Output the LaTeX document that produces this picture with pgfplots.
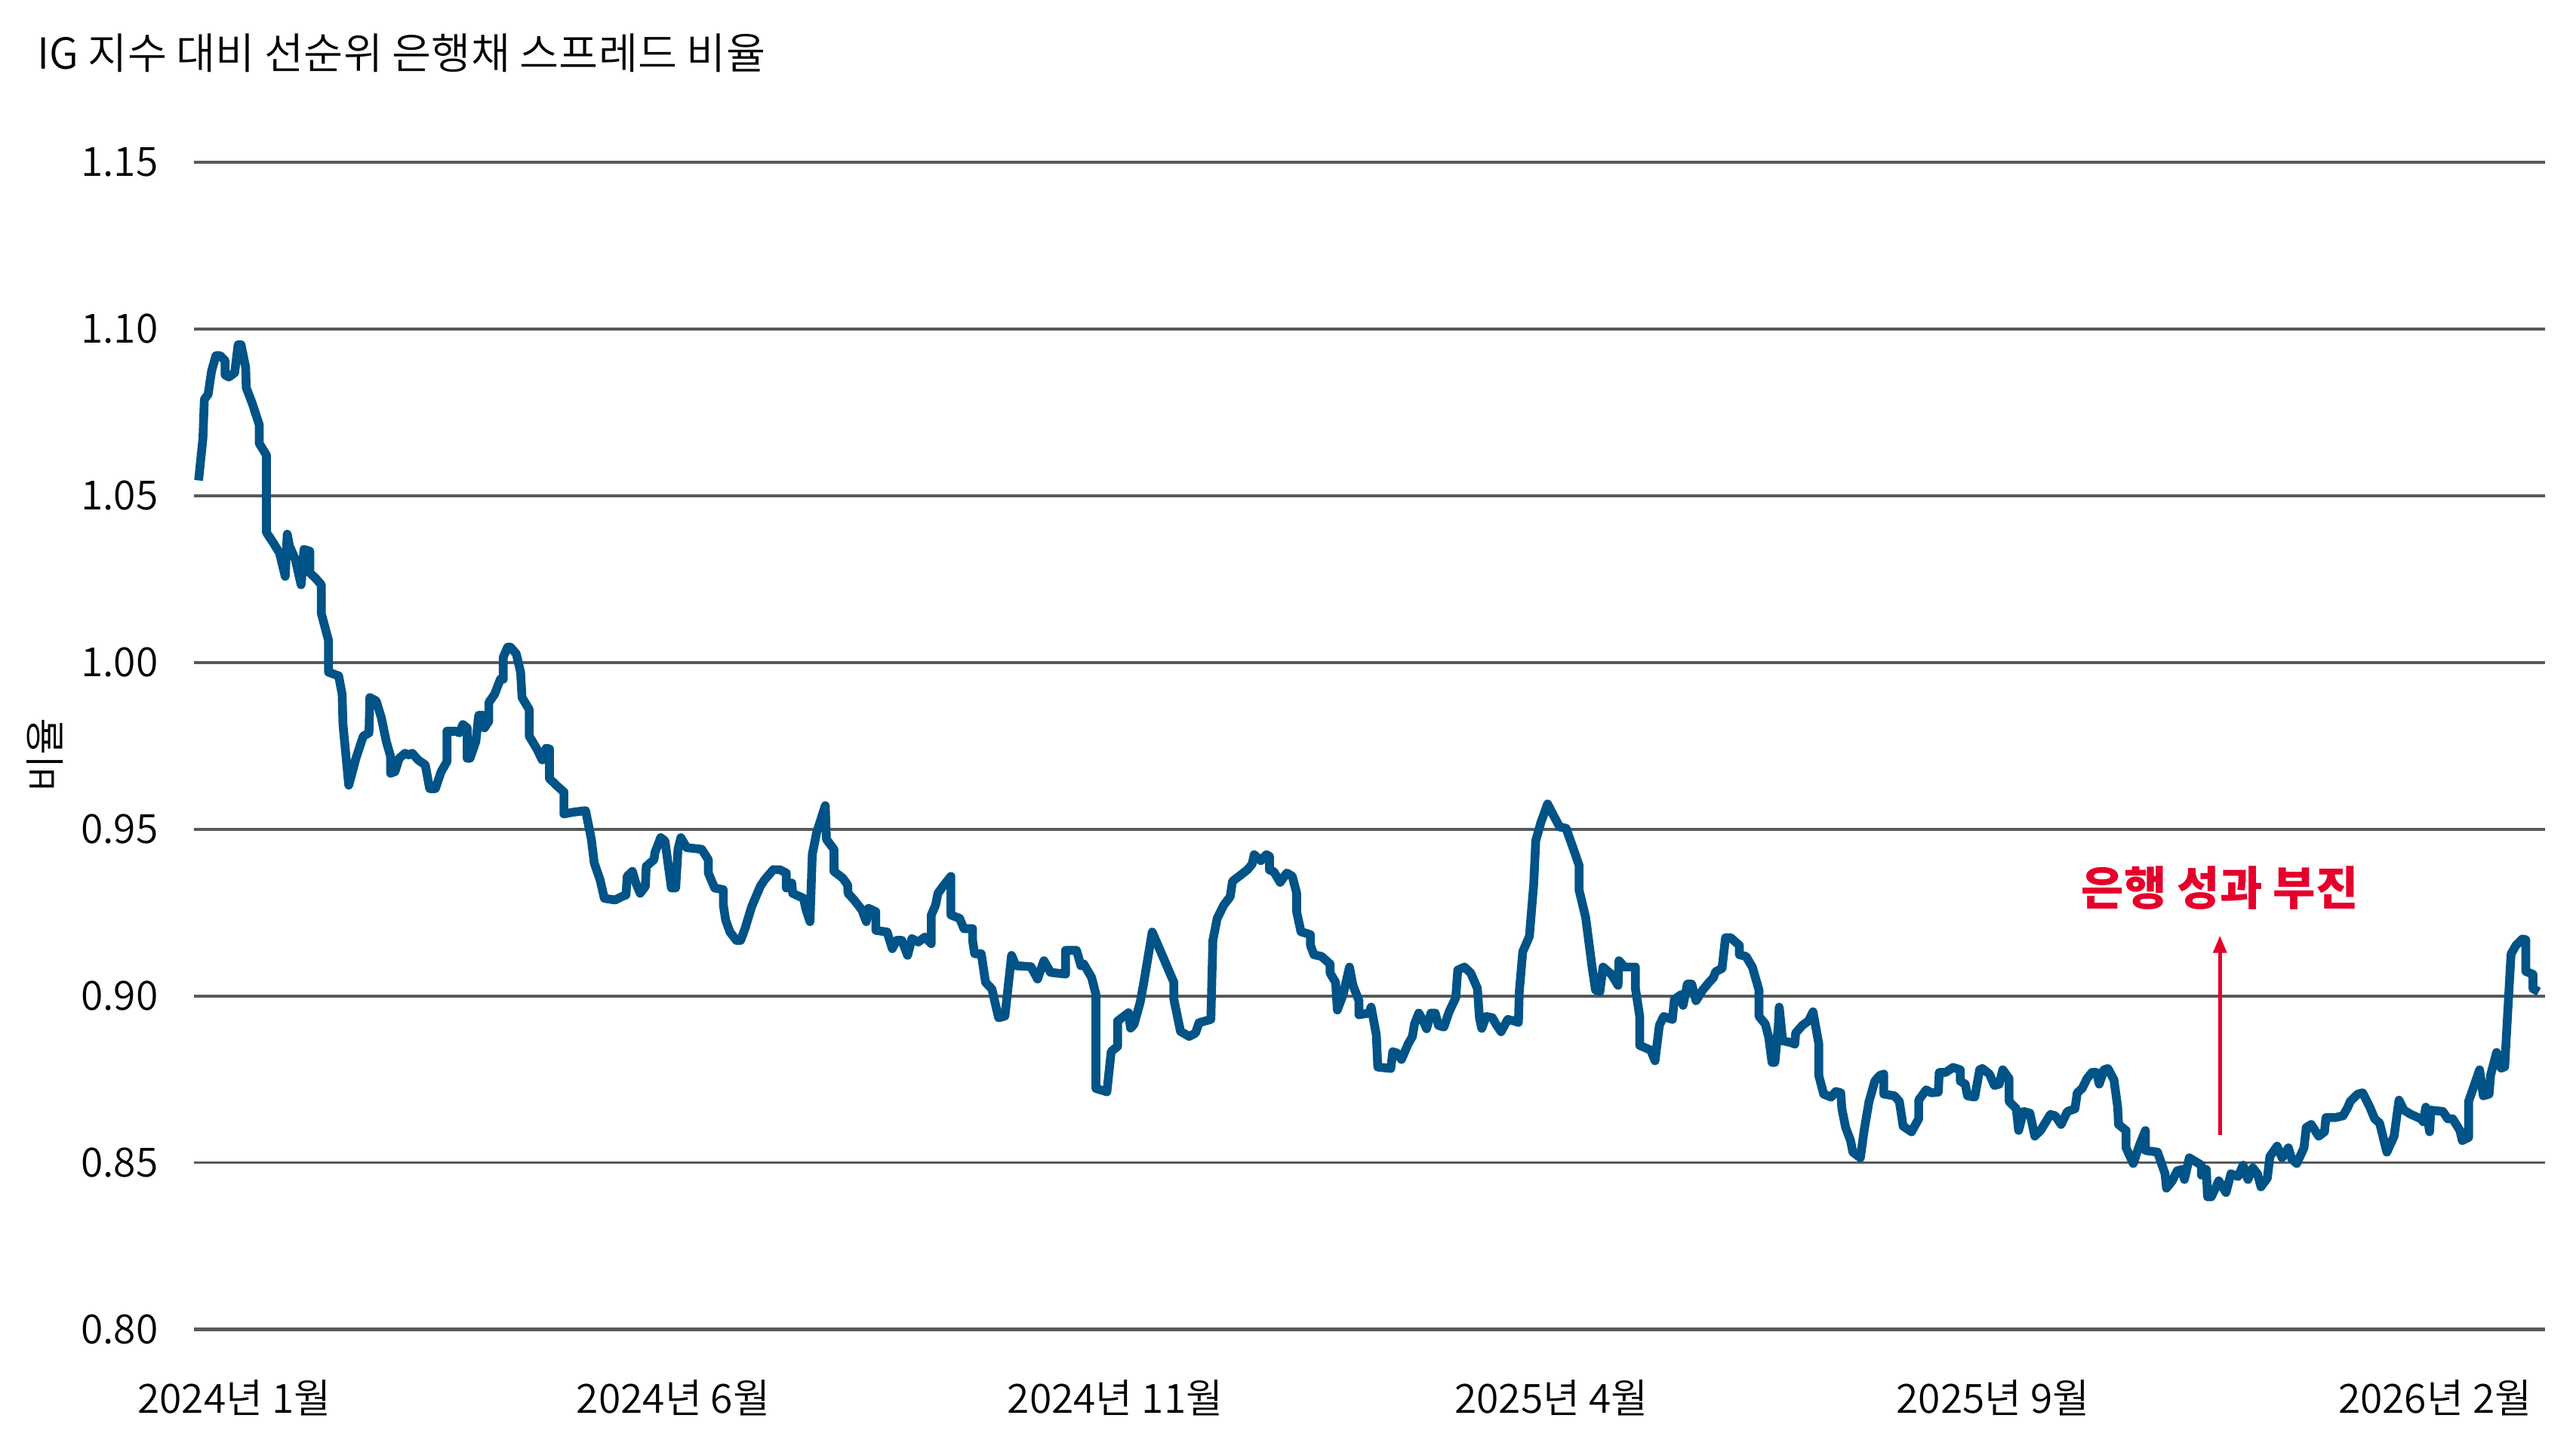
\documentclass[border=0pt]{standalone}
\usepackage{fontspec}
\IfFontExistsTF{Noto Sans CJK KR DemiLight}
  {\setmainfont{Noto Sans CJK KR DemiLight}}
  {\IfFontExistsTF{Noto Sans CJK KR Light}
    {\setmainfont{Noto Sans CJK KR Light}}
    {\setmainfont{Noto Sans CJK KR}}}
\newfontfamily\annotfont{Noto Sans CJK KR}
\usepackage{pgfplots}
\pgfplotsset{compat=1.18}
\usetikzlibrary{arrows.meta}

\definecolor{linec}{RGB}{0,83,135}
\definecolor{gridc}{RGB}{88,89,91}
\definecolor{annot}{RGB}{228,0,43}

% x = days since 2024-01-01, y = ratio
\pgfplotstableread{
day ratio
-12.4 1.0546
-10.9 1.0672
-10.4 1.0789
-9.1 1.0804
-7.9 1.0874
-6.4 1.0920
-4.9 1.0920
-3.2 1.0905
-3.2 1.0862
-1.9 1.0856
0.1 1.0869
1.3 1.0953
2.3 1.0953
3.9 1.0885
4.1 1.0824
6.1 1.0779
8.6 1.0713
8.6 1.0657
11.1 1.0622
11.1 1.0390
13.1 1.0364
15.6 1.0329
17.6 1.0258
18.3 1.0385
19.1 1.0349
21.1 1.0309
23.1 1.0233
24.1 1.0339
26.1 1.0334
26.1 1.0269
28.1 1.0253
30.1 1.0233
30.1 1.0147
32.6 1.0066
32.6 0.9971
36.1 0.9960
37.3 0.9905
37.6 0.9814
39.6 0.9632
42.1 0.9713
44.6 0.9779
46.6 0.9789
46.9 0.9895
49.1 0.9885
50.9 0.9834
52.6 0.9763
54.1 0.9718
54.1 0.9668
55.6 0.9673
57.1 0.9713
59.1 0.9728
60.3 0.9723
61.6 0.9728
63.6 0.9708
66.1 0.9693
67.6 0.9622
69.6 0.9622
71.6 0.9673
73.6 0.9703
73.6 0.9794
76.6 0.9794
77.9 0.9789
79.1 0.9814
80.6 0.9804
80.6 0.9713
81.6 0.9713
83.6 0.9763
84.6 0.9842
86.1 0.9842
86.6 0.9804
88.1 0.9824
88.1 0.9880
90.1 0.9905
92.1 0.9950
93.1 0.9950
93.1 1.0016
94.6 1.0046
95.6 1.0046
97.6 1.0026
99.1 0.9971
99.6 0.9895
102.1 0.9859
102.1 0.9779
104.6 0.9743
106.6 0.9708
107.9 0.9743
109.1 0.9741
109.1 0.9652
112.1 0.9627
114.1 0.9612
114.1 0.9546
117.1 0.9551
121.6 0.9556
123.6 0.9470
124.6 0.9399
126.6 0.9349
128.1 0.9293
131.8 0.9288
134.1 0.9298
135.6 0.9303
136.0 0.9359
137.8 0.9374
139.0 0.9339
140.5 0.9308
142.3 0.9329
142.6 0.9389
145.3 0.9409
145.6 0.9430
147.6 0.9475
149.1 0.9465
151.3 0.9324
152.8 0.9324
153.6 0.9440
154.6 0.9475
156.6 0.9445
161.8 0.9440
164.1 0.9409
164.1 0.9369
166.3 0.9324
169.3 0.9319
169.3 0.9273
170.1 0.9228
171.6 0.9192
173.8 0.9167
175.3 0.9167
176.8 0.9202
179.1 0.9268
182.1 0.9329
183.6 0.9349
186.6 0.9379
188.8 0.9379
191.1 0.9369
191.1 0.9324
193.0 0.9339
193.3 0.9308
197.1 0.9293
197.8 0.9263
199.3 0.9223
200.1 0.9425
201.6 0.9490
204.6 0.9571
205.0 0.9470
207.6 0.9440
207.6 0.9374
210.6 0.9354
212.3 0.9334
212.5 0.9308
214.6 0.9288
217.3 0.9258
218.8 0.9223
219.6 0.9263
222.1 0.9253
222.1 0.9197
226.0 0.9192
227.8 0.9142
229.3 0.9167
231.1 0.9167
233.1 0.9122
234.6 0.9172
236.8 0.9162
239.1 0.9177
241.3 0.9157
241.3 0.9243
242.8 0.9273
243.6 0.9308
245.8 0.9334
248.1 0.9359
248.1 0.9243
251.1 0.9233
252.6 0.9202
255.6 0.9202
255.6 0.9167
256.3 0.9127
258.6 0.9127
260.1 0.9041
262.3 0.9021
264.6 0.8935
266.8 0.8940
269.1 0.9122
270.6 0.9091
275.8 0.9088
278.1 0.9051
280.3 0.9106
282.6 0.9071
287.8 0.9066
287.8 0.9137
291.6 0.9137
293.1 0.9091
294.1 0.9096
296.8 0.9056
298.3 0.9005
298.3 0.8723
302.1 0.8713
303.6 0.8834
305.8 0.8849
305.8 0.8925
309.6 0.8950
310.3 0.8904
311.5 0.8915
313.6 0.8980
314.8 0.9036
317.8 0.9192
320.8 0.9132
325.3 0.9041
325.3 0.8990
327.6 0.8894
330.6 0.8879
332.8 0.8889
334.0 0.8920
338.1 0.8930
338.8 0.9167
340.3 0.9233
342.6 0.9273
344.8 0.9298
345.6 0.9344
348.6 0.9364
350.8 0.9379
352.4 0.9396
353.1 0.9424
355.4 0.9406
357.3 0.9424
358.4 0.9419
358.4 0.9378
359.9 0.9373
362.1 0.9341
364.4 0.9369
366.3 0.9359
367.8 0.9309
367.8 0.9253
369.3 0.9193
372.6 0.9184
372.6 0.9152
373.8 0.9124
376.4 0.9119
379.4 0.9096
379.4 0.9069
381.3 0.9041
381.9 0.8958
383.9 0.9004
386.1 0.9087
387.3 0.9032
389.4 0.8986
389.4 0.8944
392.9 0.8949
393.6 0.8967
395.4 0.8884
395.9 0.8787
400.4 0.8783
401.1 0.8833
402.6 0.8829
404.1 0.8810
406.4 0.8856
407.9 0.8879
408.6 0.8916
410.1 0.8949
411.6 0.8926
412.8 0.8902
414.3 0.8949
415.8 0.8949
416.9 0.8912
418.8 0.8907
420.6 0.8953
422.9 0.8995
423.6 0.9078
425.9 0.9087
428.1 0.9069
430.4 0.9023
431.1 0.8935
431.9 0.8903
433.4 0.8939
435.6 0.8935
436.8 0.8916
438.6 0.8893
440.9 0.8930
442.8 0.8926
444.6 0.8921
444.9 0.9013
446.1 0.9133
448.4 0.9179
449.9 0.9336
450.6 0.9466
452.4 0.9521
454.7 0.9576
456.9 0.9539
458.9 0.9507
461.1 0.9503
463.4 0.9447
465.6 0.9392
465.6 0.9318
467.9 0.9235
470.1 0.9087
471.3 0.9018
472.8 0.9013
473.9 0.9087
476.9 0.9064
479.1 0.9032
479.4 0.9106
481.4 0.9087
485.1 0.9087
485.1 0.9023
486.6 0.8939
486.6 0.8852
490.4 0.8838
491.9 0.8806
493.4 0.8912
494.9 0.8939
497.9 0.8930
498.6 0.8990
500.9 0.9004
501.6 0.8972
503.1 0.9036
504.6 0.9036
506.1 0.8986
508.4 0.9018
510.6 0.9041
512.1 0.9055
512.9 0.9073
515.1 0.9083
516.3 0.9175
518.1 0.9175
521.1 0.9152
521.1 0.9124
523.4 0.9119
525.6 0.9087
527.9 0.9018
527.9 0.8939
530.1 0.8916
531.3 0.8875
532.4 0.8801
533.4 0.8801
534.6 0.8912
534.9 0.8967
536.1 0.8866
538.8 0.8861
540.3 0.8856
540.6 0.8889
542.9 0.8912
545.1 0.8926
546.6 0.8953
548.6 0.8857
548.6 0.8762
550.3 0.8706
552.9 0.8697
554.5 0.8714
556.2 0.8710
556.6 0.8662
557.9 0.8606
559.6 0.8567
560.4 0.8532
563.0 0.8515
564.3 0.8597
566.0 0.8684
568.0 0.8745
569.7 0.8762
571.1 0.8766
571.1 0.8706
574.8 0.8701
576.5 0.8684
577.8 0.8610
580.7 0.8593
583.2 0.8632
583.2 0.8688
585.8 0.8719
587.5 0.8710
590.0 0.8712
590.3 0.8771
592.5 0.8771
595.1 0.8786
597.6 0.8779
597.6 0.8745
599.3 0.8736
600.1 0.8701
602.6 0.8697
604.3 0.8779
605.2 0.8783
607.7 0.8766
609.4 0.8732
611.1 0.8736
612.3 0.8779
614.5 0.8753
614.5 0.8684
617.0 0.8662
617.8 0.8597
619.5 0.8654
621.7 0.8649
623.4 0.8580
625.4 0.8597
628.8 0.8645
630.5 0.8641
632.5 0.8615
634.7 0.8654
637.3 0.8662
638.1 0.8710
639.8 0.8723
641.5 0.8753
643.2 0.8771
644.8 0.8771
645.7 0.8736
647.4 0.8779
648.7 0.8783
650.8 0.8749
652.1 0.8667
652.4 0.8615
655.0 0.8597
655.0 0.8545
657.5 0.8498
659.5 0.8550
661.7 0.8597
661.7 0.8537
665.9 0.8532
668.5 0.8467
669.0 0.8424
671.0 0.8446
672.7 0.8476
674.4 0.8480
675.2 0.8450
676.9 0.8515
681.1 0.8493
681.1 0.8463
682.8 0.8480
683.2 0.8398
684.5 0.8398
687.1 0.8446
689.6 0.8411
691.3 0.8467
693.8 0.8459
695.5 0.8493
697.2 0.8450
698.9 0.8485
700.5 0.8467
701.7 0.8428
703.9 0.8454
704.8 0.8519
707.3 0.8550
709.0 0.8515
711.2 0.8545
712.4 0.8511
714.1 0.8498
716.6 0.8545
717.4 0.8606
719.1 0.8615
721.7 0.8580
723.7 0.8593
724.2 0.8636
727.6 0.8636
730.1 0.8641
731.8 0.8667
732.6 0.8684
735.2 0.8706
736.9 0.8710
739.4 0.8667
741.1 0.8632
742.8 0.8619
745.3 0.8532
747.8 0.8580
749.5 0.8688
751.2 0.8658
753.7 0.8645
757.1 0.8632
757.9 0.8623
758.8 0.8667
760.1 0.8593
760.5 0.8658
764.7 0.8654
766.4 0.8632
768.1 0.8632
770.6 0.8597
771.4 0.8567
773.6 0.8576
773.6 0.8684
775.7 0.8736
777.4 0.8779
778.7 0.8701
780.7 0.8706
781.2 0.8762
783.3 0.8831
784.9 0.8784
786.1 0.8788
787.1 0.8944
788.3 0.9126
790.0 0.9152
792.2 0.9171
793.4 0.9169
793.4 0.9074
795.9 0.9065
795.9 0.9022
797.9 0.9013
}\ratiodata

\begin{document}
\begin{tikzpicture}[x=1pt,y=1pt]
\useasboundingbox (0,0) rectangle (512,288);

\node[anchor=west, inner sep=0pt, font=\fontsize{8.5}{10}\selectfont] at (7.2,277.5)
  {IG 지수 대비 선순위 은행채 스프레드 비율};
\node[rotate=90, inner sep=0pt, font=\fontsize{8}{9.6}\selectfont] at (8.9,137.9) {비율};

\begin{axis}[
  at={(38.55pt,23.7pt)}, anchor=south west,
  scale only axis,
  width=467.25pt, height=232.05pt,
  xmin=-14, xmax=800,
  ymin=0.80, ymax=1.15,
  axis line style={draw=none},
  major tick length=0pt,
  ytick={0.80,0.85,0.90,0.95,1.00,1.05,1.10,1.15},
  /pgf/number format/fixed,
  /pgf/number format/fixed zerofill,
  /pgf/number format/precision=2,
  /pgf/number format/assume math mode=true,
  yticklabel style={xshift=-3.6pt},
  xtick={0,152,305,456,609,762},
  xticklabels={2024년 1월,2024년 6월,2024년 11월,2025년 4월,2025년 9월,2026년 2월},
  xticklabel style={yshift=-6.5pt},
  tick label style={font=\fontsize{8}{9.6}\selectfont, text=black},
  ymajorgrids,
  grid style={gridc, line width=0.5pt},
  clip=false,
]
\addplot[linec, line width=1.75pt, line join=round] table[x=day, y=ratio] {\ratiodata};
\draw[gridc, line width=0.8pt] (axis cs:-14,0.80) -- (axis cs:800,0.80);
\draw[annot, line width=0.8pt, -{Triangle[length=3.5pt, width=2.6pt]}]
  (axis cs:687.5,0.8584) -- (axis cs:687.5,0.9182);
\node[annot, font=\annotfont\fontsize{9.2}{11}\selectfont\bfseries] at (axis cs:687.5,0.9325) {은행 성과 부진};
\end{axis}
\end{tikzpicture}
\end{document}
